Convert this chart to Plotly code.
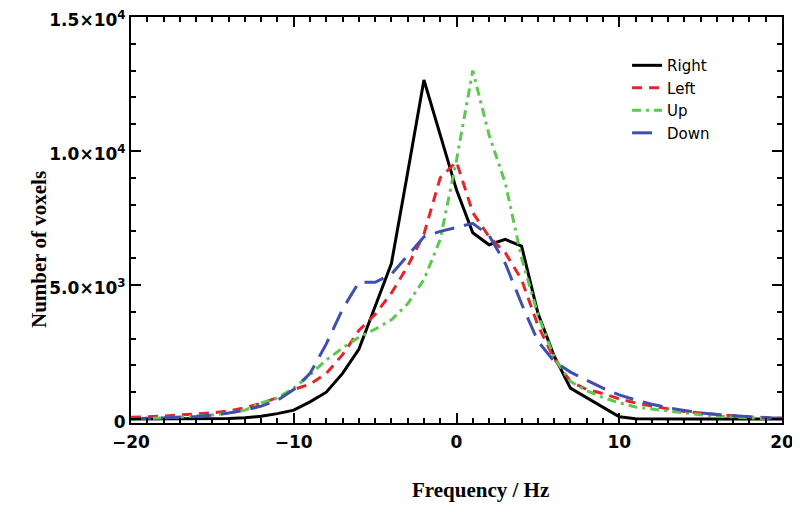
import plotly.graph_objects as go

freq = list(range(-20, 21))

right = [0, 0, 0, 0, 0, 0, 20, 50, 100, 200, 330, 640, 1000, 1700, 2600, 4200, 5800, 9200,
         12650, 10600, 8550, 6950, 6500, 6700, 6450, 3950, 2350, 1150, 800, 440, 80, 10,
         0, 0, 0, 0, 0, 0, 0, 0, 0]
left = [60, 80, 110, 150, 190, 230, 300, 420, 580, 800, 1100, 1300, 1700, 2400, 3300, 3900,
        4700, 5700, 6900, 9000, 9600, 7700, 6800, 6200, 5200, 3500, 2250, 1400, 1100, 950,
        750, 600, 480, 380, 280, 220, 160, 120, 80, 50, 30]
up = [10, 20, 40, 70, 100, 150, 220, 330, 600, 780, 1150, 1650, 2200, 2650, 3050, 3350,
      3700, 4300, 5200, 6700, 9660, 13000, 10600, 8800, 6000, 3900, 2300, 1400, 1050, 800,
      600, 450, 370, 300, 220, 160, 110, 70, 40, 20, 10]
down = [10, 20, 40, 60, 90, 140, 220, 330, 480, 700, 1100, 1700, 2800, 4100, 5100, 5100,
        5400, 6100, 6800, 7000, 7150, 7300, 6850, 5800, 4300, 2900, 2150, 1750, 1450, 1150,
        900, 710, 550, 420, 320, 230, 170, 120, 80, 50, 30]

series = [
    ("Right", right, "#000000", "solid"),
    ("Left", left, "#e3262b", "10px,7px"),
    ("Up", up, "#5cc84e", "9px,5px,3px,5px"),
    ("Down", down, "#3f4fb0", "20px,10px"),
]

xticks = [-20, -10, 0, 10, 20]
yticks = [0, 5000, 10000, 15000]
yticktext = ["0", "5.0×10<sup>3</sup>", "1.0×10<sup>4</sup>", "1.5×10<sup>4</sup>"]

fig = go.Figure()
for name, vals, color, dash in series:
    fig.add_trace(go.Scatter(x=freq, y=vals, mode="lines", name=name,
                             line=dict(color=color, width=3, dash=dash)))

axis_common = dict(showline=True, linecolor="black", linewidth=2, mirror="ticks",
                   ticks="inside", tickcolor="black", tickwidth=2, ticklen=10,
                   showgrid=False, zeroline=False, automargin=False, ticklabeloverflow="allow",
                   tickfont=dict(family="DejaVu Sans", size=17, color="black", weight="bold"))

fig.update_xaxes(range=[-20, 20], tickvals=xticks, ticktext=[str(v).replace("-", "−") for v in xticks],
                 ticklabelstandoff=3,
                 minor=dict(dtick=1, ticks="inside", ticklen=5, tickcolor="black", tickwidth=2, showgrid=False),
                 **axis_common)
fig.update_yaxes(range=[-150, 15000], tickvals=yticks, ticktext=yticktext, ticklabelshift=3,
                 minor=dict(dtick=1000, ticks="inside", ticklen=5, tickcolor="black", tickwidth=2, showgrid=False),
                 **axis_common)

fig.add_annotation(text="<b>Frequency / Hz</b>", xref="paper", yref="paper", x=0.5 + 24 / 651, y=0,
                   yshift=-67, xanchor="center", yanchor="middle", showarrow=False,
                   font=dict(family="Liberation Serif", size=21, color="black"))
fig.add_annotation(text="<b>Number of voxels</b>", xref="paper", yref="paper", x=0, y=0.5 - 30 / 406,
                   xshift=-92, xanchor="center", yanchor="middle", showarrow=False, textangle=-90,
                   font=dict(family="Liberation Serif", size=21, color="black"))

# the page body has an 8px margin, so the figure is drawn 8px right and down
fig.update_layout(
    width=792, height=504,
    margin=dict(l=123, r=18, t=9, b=89),
    plot_bgcolor="white", paper_bgcolor="white",
    showlegend=True,
    legend=dict(x=0.762, y=0.921, xanchor="left", yanchor="top", bgcolor="rgba(0,0,0,0)",
                font=dict(family="DejaVu Sans", size=15, color="black"), tracegroupgap=0),
)

fig.write_html("out.html")
